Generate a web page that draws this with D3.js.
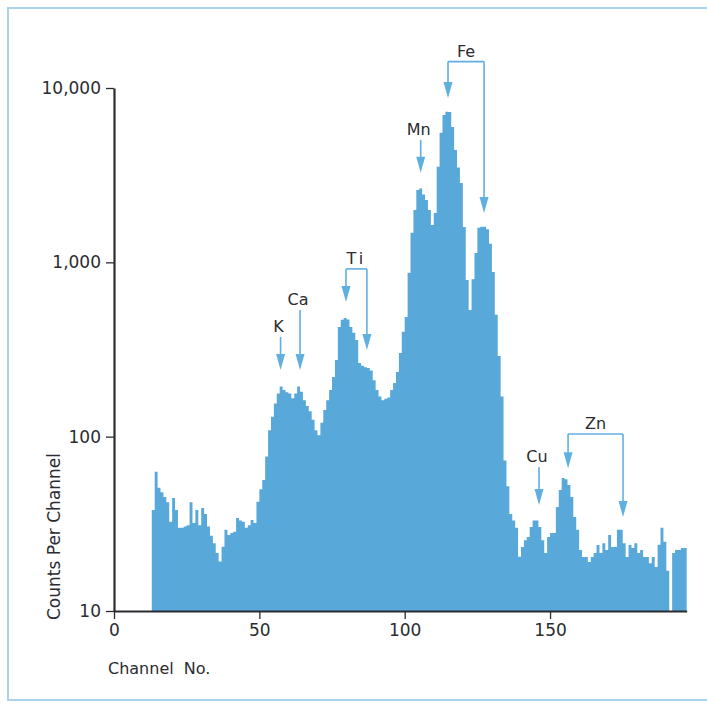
<!DOCTYPE html>
<html><head><meta charset="utf-8">
<script src="https://cdn.jsdelivr.net/npm/d3@7"></script>
<style>html,body{margin:0;padding:0;background:#fff;} svg{display:block;}</style>
</head><body>
<script>
// ---- data ----
const firstChannel = 13;
const counts = [
 38, 63, 51, 48, 45, 42, 32.5, 44.5, 38, 30,          // 13-22
 30, 30.5, 31, 42, 32, 38, 31, 39, 36, 30.5,           // 23-32
 27, 24.5, 21.5, 19.2, 23.4, 29.2, 27.3, 28, 28.5, 34.2, // 33-42
 33, 32.5, 30, 31, 33.3, 32, 42.4, 50, 56.5, 77,       // 43-52
 109, 130, 155, 177, 194, 185, 180, 177, 166, 177,     // 53-62
 194, 181, 162, 150, 140, 125, 109, 102, 120, 142,     // 63-72
 162, 185, 220, 275, 426, 468, 480, 470, 426, 394,     // 73-82
 359, 265, 255, 250, 248, 240, 211, 185, 170, 162,     // 83-92
 165, 168, 185, 203, 235, 302, 400, 486, 871, 1476,    // 93-102
 1995, 2600, 2650, 2450, 2280, 1995, 1640, 1920, 3530, 5530, // 103-112
 7010, 7300, 7290, 5980, 4415, 3500, 2855, 1597, 793, 533,   // 113-122
 800, 1130, 1580, 1600, 1600, 1550, 1280, 880, 500, 290,     // 123-132
 170, 73, 52, 36, 33, 30, 20.5, 23.3, 25.5, 26.6,      // 133-142
 30.3, 33, 33, 30.3, 25.5, 21.5, 26.6, 28, 28, 39.5,   // 143-152
 49.5, 58, 57, 52.8, 45, 34.6, 29.2, 22.4, 20.4, 20.4, // 153-162
 19.1, 20.4, 21.5, 23.9, 21.5, 24.5, 22.4, 27.3, 23.3, 23.3, // 163-172
 29.2, 29.2, 24.5, 20.4, 23.9, 23, 24.5, 21.5, 22.4, 20.4,   // 173-182
 20.4, 18.8, 20.4, 17.9, 24, 30, 25, 17, 10, 21.5,     // 183-192
 22.4, 22.4, 23, 23                                    // 193-196
];
const xTicks = [0, 50, 100, 150];
const yTicks = [10, 100, 1000, 10000];
const xLabel = "Channel  No.";
const yLabel = "Counts Per Channel";
const peakNames = ["K", "Ca", "Ti", "Mn", "Fe", "Cu", "Zn"];
const peakChannels = [[57.3], [64], [79.8, 87], [105.5], [114.9, 127.3], [146.2], [156.2, 175.1]];
const peakTips = [[241], [241], [593, 314], [3260], [8770, 1920], [40.6], [66, 34.6]];
const peakTops = [373, 533, 917, 5040, 14170, 67, 103.6];

// ---- layout ----
const W = 707, H = 707;
const fill = "#58a9da", arrowCol = "#5fb0e0", ink = "#2b2b30";
const font = "DejaVu Sans, Verdana, sans-serif";

const svg = d3.select("body").append("svg").attr("width", W).attr("height", H);
svg.append("rect").attr("width", W).attr("height", H).attr("fill", "#fff");
svg.append("rect").attr("x", 8).attr("y", 8).attr("width", 760).attr("height", 692)
   .attr("fill", "none").attr("stroke", "#a9d3ea").attr("stroke-width", 2);

const lastCh = firstChannel + counts.length; // 197
const x = d3.scaleLinear().domain([0, lastCh]).range([114, 114 + lastCh * 2.907]);
const y = d3.scaleLog().domain([10, 10000]).range([611, 88]);

const pts = counts.map((v, i) => [firstChannel + i, v]);
pts.push([lastCh, counts[counts.length - 1]]);
const area = d3.area().curve(d3.curveStepAfter)
  .x(d => x(d[0])).y0(y(10)).y1(d => y(d[1]));
svg.append("path").datum(pts).attr("d", area).attr("fill", fill);

// axes
const yAxis = d3.axisLeft(y).tickValues(yTicks).tickFormat(d3.format(",")).tickSize(8).tickSizeOuter(0).tickPadding(5);
const gy = svg.append("g").attr("transform", `translate(${x(0)},0)`).call(yAxis);
const xAxis = d3.axisBottom(x).tickValues(xTicks).tickSize(8).tickSizeOuter(0).tickPadding(5);
const gx = svg.append("g").attr("transform", `translate(0,${y(10)})`).call(xAxis);
[gy, gx].forEach(g => {
  g.select(".domain").attr("stroke", ink).attr("stroke-width", 2.2);
  g.selectAll(".tick line").attr("stroke", ink).attr("stroke-width", 1.3);
  g.selectAll(".tick text").attr("fill", ink).style("font-family", font).style("font-size", "17px");
});

svg.append("text").attr("x", 108).attr("y", 674).text(xLabel)
  .attr("fill", ink).style("font-family", font).style("font-size", "16px").style("white-space", "pre")
  .attr("xml:space", "preserve");
svg.append("text").attr("transform", "translate(60,620) rotate(-90)").text(yLabel)
  .attr("fill", ink).style("font-family", font).style("font-size", "17px");

// peak annotations
const ann = svg.append("g");
function arrow(cx, yTop, yTip) {
  const hl = 16, hw = 4.5;
  ann.append("line").attr("x1", cx).attr("x2", cx).attr("y1", yTop).attr("y2", yTip - hl + 2)
    .attr("stroke", arrowCol).attr("stroke-width", 1.6);
  ann.append("path").attr("d", `M${cx - hw},${yTip - hl}L${cx + hw},${yTip - hl}L${cx},${yTip}Z`)
    .attr("fill", arrowCol);
}
peakNames.forEach((name, i) => {
  const chs = peakChannels[i];
  const top = y(peakTops[i]);
  let lx;
  if (chs.length === 2) {
    const x1 = x(chs[0]), x2 = x(chs[1]);
    ann.append("line").attr("x1", x1).attr("x2", x2).attr("y1", top).attr("y2", top)
      .attr("stroke", arrowCol).attr("stroke-width", 1.6);
    arrow(x1, top, y(peakTips[i][0]));
    arrow(x2, top, y(peakTips[i][1]));
    lx = (x1 + x2) / 2;
  } else {
    const cx = x(chs[0]);
    arrow(cx, top, y(peakTips[i][0]));
    lx = cx - 2;
  }
  ann.append("text").attr("x", lx).attr("y", top - 5).attr("text-anchor", "middle")
    .text(name).attr("fill", ink).style("font-family", font).style("font-size", "16px")
    .style("letter-spacing", name === "Ti" ? "3px" : "0px");
});
</script>
</body></html>
